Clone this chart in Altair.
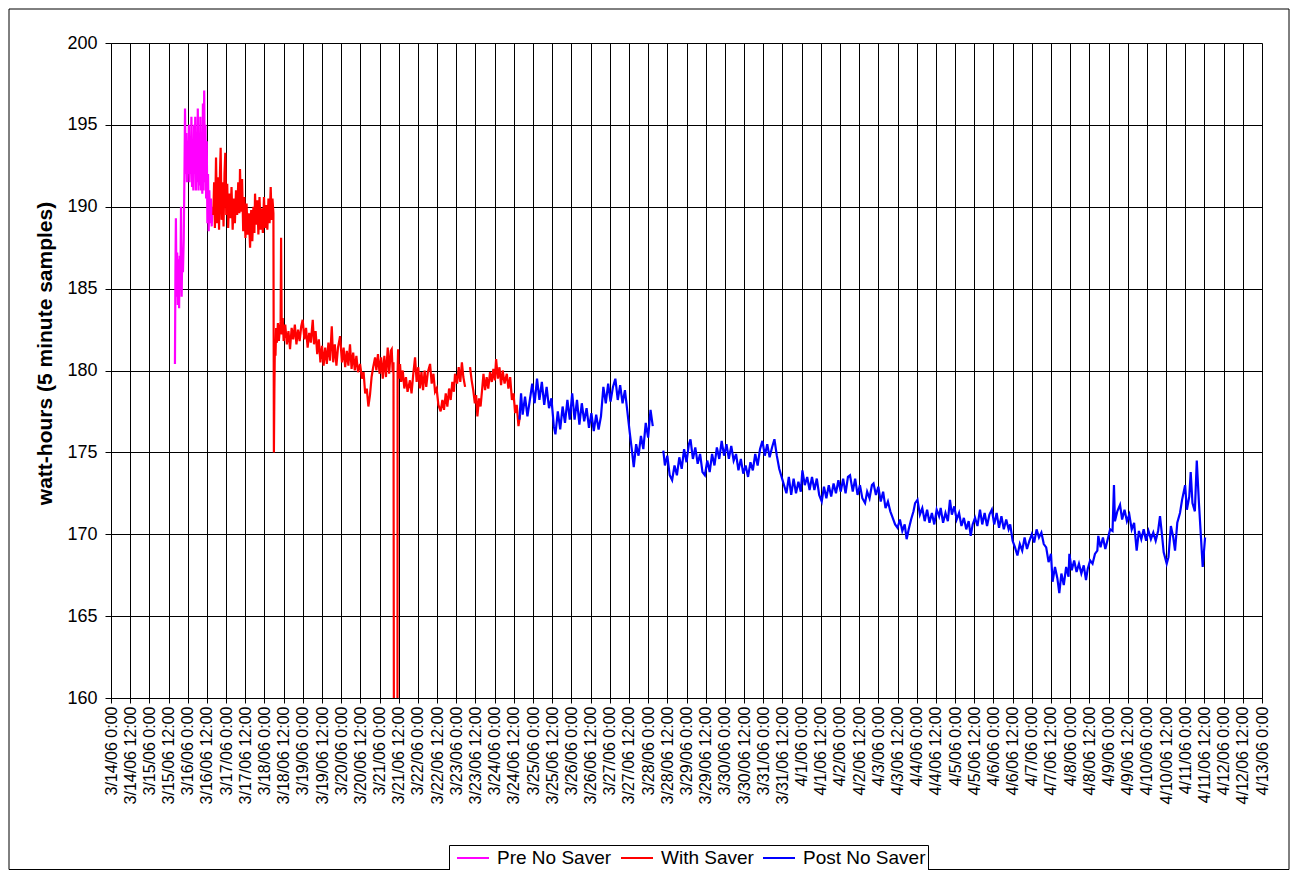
import altair as alt
import pandas as pd

START = pd.Timestamp("2006-03-14T00:00:00Z")

# ---- Pre No Saver (hours since 3/14/06 0:00, watt-hours) ----
pre_hours = [40.0, 40.3, 40.6, 41.0, 41.4, 41.8, 42.2, 42.6, 43.0, 43.4, 43.8, 44.2, 44.6, 45.0, 45.5,
             46.0, 46.3, 46.7, 47.1, 47.5, 47.9, 48.3, 48.7, 49.1, 49.5, 49.9, 50.3, 50.7, 51.1, 51.5,
             51.9, 52.3, 52.7, 53.1, 53.5, 53.9, 54.3, 54.7, 55.1, 55.5, 55.9, 56.3, 56.7, 57.1, 57.5,
             57.9, 58.3, 58.7, 59.1, 59.5, 59.9, 60.3, 60.7, 61.1, 61.5, 62.0, 62.5, 63.0, 63.5, 63.8]
pre_vals = [180.4, 186.0, 189.3, 184.5, 187.2, 184.0, 186.8, 183.8, 187.0, 185.0, 190.0, 184.5, 187.5, 186.0, 188.0,
            192.5, 196.0, 192.0, 194.5, 191.5, 194.0, 192.0, 195.0, 191.5, 193.5, 192.0, 195.5, 191.2, 194.0, 191.0,
            195.0, 192.0, 195.5, 191.0, 194.0, 191.5, 196.0, 191.0, 194.5, 191.3, 195.5, 191.0, 194.0, 190.8, 196.3,
            191.0, 197.1, 191.5, 195.0, 190.5, 194.0, 189.0, 192.0, 188.5, 191.0, 189.0, 190.5, 188.8, 190.0, 189.5]

# ---- With Saver, first stretch ----
with1_hours = [64.0, 64.5, 65.0, 65.7, 66.3, 67.0, 67.6, 68.2, 68.6, 69.2, 69.8, 70.4, 71.0, 71.5, 72.1,
               72.7, 73.3, 74.0, 74.7, 75.4, 76.1, 76.8, 77.5, 78.2, 78.9, 79.6, 80.3, 80.7, 81.3, 82.0,
               82.7, 83.4, 84.1, 84.8, 85.5, 86.2, 87.0, 87.7, 88.4, 89.1, 89.7, 90.1, 90.8, 91.5, 92.2,
               92.9, 93.6, 94.3, 95.0, 95.7, 96.4, 97.1, 97.8, 98.5, 99.2, 99.9, 100.5, 101.0, 101.6,
               101.9, 102.2, 102.5, 102.9, 103.3, 103.8, 104.4, 105.0, 105.6, 106.1, 106.4, 106.8, 107.4, 108.0,
               109, 110, 111, 112, 113, 114, 115, 116, 117, 118, 119, 119.9, 121, 122, 123, 124, 125, 126.2,
               127, 128, 129, 130, 131, 132, 133, 134, 135, 136, 137, 138.1, 139, 140, 141, 142, 143.3,
               144.5, 145.5, 146.5, 147.5, 148.5, 149.5, 150.5, 151.5, 152.5, 153.5, 154.5, 155.8, 157, 158,
               159, 160, 161, 162, 163, 164, 165.2, 166, 167, 168, 169, 170, 171, 172, 173.1, 174, 175, 175.6,
               176.2, 176.7, 177.0, 179.2, 179.3, 179.6, 180.0, 180.8, 181.5, 182.5, 183.5, 184.5, 185.5, 187.0,
               188.0, 189.1, 190.2, 191.2, 192.2, 193.2, 194.2, 195.2, 196.2, 197.2, 198.2, 199.6, 200.6, 201.7,
               202.7, 203.7, 204.8, 206.2, 207.3, 208.3, 209.4, 210.4, 211.5, 212.5, 213.5, 214.5, 215.2, 216.5,
               217.5, 218.5, 219.5, 220.4, 221.5]
with1_vals = [189.5, 191.5, 188.7, 193.0, 189.0, 191.8, 188.6, 192.2, 193.6, 189.2, 191.5, 188.8, 192.0, 193.3, 189.5,
              191.4, 188.7, 190.8, 189.3, 191.2, 188.6, 190.5, 189.0, 191.0, 189.5, 191.5, 189.6, 192.3, 189.7, 191.7,
              188.5, 190.6, 188.1, 190.2, 188.3, 189.6, 187.5, 189.8, 187.9, 190.0, 188.4, 190.8, 188.9, 190.4, 188.3,
              190.6, 188.6, 189.9, 188.4, 190.6, 188.7, 190.1, 188.6, 190.5, 189.0, 191.2, 189.2, 190.5, 189.6,
              175.0, 178.8, 181.4, 180.9, 182.6, 181.7, 182.9, 181.8, 182.5, 183.0, 188.1, 182.2, 183.2, 181.8,
              182.8, 181.6, 182.4, 181.3, 182.6, 181.9, 182.8, 181.6, 182.5, 181.8, 182.7, 183.1, 181.9, 182.6, 181.4, 182.3, 181.7, 183.1,
              181.6, 182.4, 181.0, 181.9, 180.5, 181.5, 180.3, 181.4, 180.4, 181.7, 180.6, 182.7, 180.5, 181.6, 180.3, 181.4, 182.1,
              180.5, 181.4, 180.2, 181.2, 180.3, 181.6, 180.1, 181.1, 180.0, 180.9, 179.9, 180.4, 179.5, 179.9,
              178.6, 178.9, 177.8, 178.5, 179.6, 180.2, 180.8, 180.0, 181.0, 179.8, 180.8, 179.5, 180.9, 179.6, 181.4, 179.8, 181.2, 181.3,
              179.9, 180.5, 155.0, 155.0, 180.0, 181.3, 179.5, 180.4, 179.3, 180.0, 178.9, 179.6, 178.7, 179.4,
              178.6, 179.8, 180.8, 179.3, 180.2, 178.9, 179.9, 178.8, 180.0, 179.0, 179.9, 180.4, 179.2, 179.8,
              178.7, 178.9, 177.9, 177.5, 178.2, 177.6, 178.6, 177.8, 178.9, 178.2, 179.3, 178.7, 179.8, 179.2,
              180.2, 179.3, 180.5, 179.6, 179.0]

# ---- With Saver, after the short gap ----
with2_hours = [224.6, 225.6, 226.6, 227.6, 228.4, 229.2, 230.2, 231.2, 232.2, 233.0, 234.0, 235.0, 236.0, 237.1,
               238.2, 239.2, 240.1, 240.9, 242.0, 243.0, 244.0, 245.0, 246.2, 247.6, 248.6, 249.7, 250.8, 251.8,
               252.8, 253.8, 254.9, 255.9]
with2_vals = [180.2, 179.4, 178.8, 178.0, 178.5, 177.2, 178.3, 177.8, 178.9, 179.8, 178.8, 179.6, 178.9, 179.9,
              179.3, 180.1, 179.4, 180.7, 179.5, 180.2, 179.1, 180.0, 179.2, 179.8, 178.9, 179.6, 178.2, 178.6,
              177.4, 177.9, 176.6, 177.3]

# ---- Post No Saver, before the gap ----
post1_hours = [255.5, 256.5, 257.5, 259, 260.5, 262, 263.5, 265, 266.5, 268, 269.5, 271, 272.5, 274, 275.5,
               277, 278, 279.5, 281, 282.5, 284, 285.5, 287, 288.5, 290, 291.5, 293, 294.5, 296, 297.5,
               299, 300.5, 302, 303.5, 305, 306.5, 308, 309.5, 311, 312.5, 314, 315.5, 317, 318.5, 320,
               321.5, 323, 324.5, 326, 327, 328.5, 330, 331.5, 333, 334.5, 336, 337.5, 338.9]
post1_vals = [177.0, 178.6, 177.3, 178.4, 177.2, 178.2, 179.2, 178.0, 179.5, 178.2, 179.3, 177.9, 179.0, 177.7, 178.3,
              176.6, 176.1, 177.5, 176.4, 177.8, 176.8, 178.2, 177.0, 178.6, 177.0, 178.2, 176.7, 178.0, 176.9, 177.7,
              176.5, 177.4, 176.3, 177.3, 176.4, 177.2, 179.0, 178.0, 179.2, 178.1, 179.0, 179.5, 178.2, 179.1, 178.0,
              178.8, 177.5, 176.2, 175.0, 174.1, 175.5, 174.8, 176.0, 175.2, 176.8, 175.9, 177.6, 176.6]

# ---- Post No Saver, after the gap ----
post2_hours = [345.5, 346.5, 348, 349.5, 351, 352.5, 354, 355.5, 357, 358.5, 360, 361.5, 362.5, 364, 365.5,
               367, 368.5, 370, 371.5, 373, 374.5, 376, 377.5, 379, 380.5, 382, 383.5, 385, 386.5, 388,
               389.5, 391, 392.5, 394, 395.5, 397, 398.5, 400, 401.5, 403, 404.5, 406, 407.5, 409, 410.5,
               412, 413.5, 415, 416.5, 418, 419.5, 421, 422.5, 424, 425.5, 427, 428.5, 430, 431.5, 432.5,
               434, 435.5, 437, 438.5, 440, 441.5, 443, 444.6, 446, 447.5, 449, 450.5, 452, 453.5, 455,
               456.5, 458, 459.5, 461, 462.3, 464, 465.5, 467, 468.5, 470, 471.7, 473, 474.5, 476, 477,
               478.5, 480, 481.5, 483, 484.5, 486, 487.5, 489, 490.5, 492, 493.5, 495, 496.5, 497.7, 499,
               500.5, 502, 503, 504.5, 506, 507.5, 509, 510.5, 512, 513.5, 515, 516.5, 518, 519, 520.5,
               522, 523.5, 524.8, 526, 527.5, 529, 530.5, 532, 533.5, 535, 536.5, 537.8, 539, 540.5, 542,
               543.6, 545, 546.5, 548, 549.5, 551, 552.5, 554, 555.5, 557, 558.5, 560, 561.5, 562.5, 564,
               565.5, 567, 568.5, 570, 571.5, 573, 574.5, 576, 577.5, 579, 580.5, 582, 583.5, 585, 586.5,
               588, 589, 590.5, 592, 593.2, 594.5, 596, 597.5, 599, 599.5, 601, 602.5, 604, 605.5, 607,
               608.5, 609.9, 611, 612.5, 614, 615.5, 617, 617.6, 619, 620.5, 622, 623.5, 625, 626.5, 627.4,
               628, 629.5, 631.2, 632.5, 634, 635.5, 637, 638.5, 640, 641.6, 643, 644.5, 646, 647.5, 649,
               650.5, 652, 653.5, 655, 656.2, 657.5, 658.5, 660.4, 661.5, 663, 664.5, 665.6, 667, 668.7, 670,
               671.9, 673, 674.5, 675.4, 676.5, 678, 679.2, 680.5, 682, 682.9, 684.4]
post2_vals = [175.1, 174.2, 174.8, 173.6, 173.3, 174.2, 173.6, 174.7, 174.0, 175.2, 174.4, 175.5, 175.8, 174.6, 175.3,
              174.3, 174.9, 173.8, 173.6, 174.5, 173.8, 174.9, 174.2, 175.3, 174.6, 175.7, 174.8, 175.5, 174.6, 175.4,
              174.5, 174.9, 173.9, 174.6, 173.7, 174.2, 173.5, 174.4, 173.9, 174.9, 174.2, 175.2, 175.7, 174.8, 175.5,
              174.7, 175.3, 175.8, 174.8, 174.0, 173.5, 173.0, 172.5, 173.5, 172.4, 173.4, 172.5, 173.2, 172.6, 173.9,
              173.0, 173.5, 172.7, 173.5, 172.7, 173.4, 172.4, 172.0, 172.9, 172.2, 173.0, 172.3, 173.1, 172.5, 173.3,
              172.6, 173.4, 172.5, 173.5, 173.6, 172.6, 173.4, 172.4, 173.0, 172.2, 171.9, 172.6, 172.2, 173.0, 173.1,
              172.4, 172.9, 172.0, 172.6, 171.6, 172.0, 171.4, 171.0, 170.6, 170.4, 170.9, 170.2, 170.6, 169.7, 170.3,
              170.9, 171.4, 171.9, 172.1, 171.2, 171.6, 170.8, 171.5, 170.7, 171.3, 170.6, 171.5, 171.1, 171.6, 170.7,
              171.3, 170.8, 172.1, 171.2, 171.7, 170.9, 171.3, 170.5, 171.0, 170.3, 170.8, 169.9, 170.6, 171.0, 170.5,
              171.5, 170.6, 171.3, 170.5, 171.2, 171.5, 170.6, 171.3, 170.4, 171.1, 170.3, 170.9, 170.3, 170.6, 169.6,
              169.2, 168.7, 169.4, 169.0, 169.8, 169.1, 169.6, 170.0, 169.5, 170.3, 169.8, 170.1, 169.4, 169.2, 168.3,
              168.8, 167.1, 168.0, 167.3, 166.4, 167.6, 166.9, 168.0, 167.4, 168.8, 167.8, 168.4, 167.7, 168.2, 167.6,
              168.1, 167.2, 167.9, 168.4, 168.2, 168.8, 169.0, 169.9, 169.2, 169.8, 169.1, 169.7, 170.3, 170.2, 173.0,
              170.8, 171.4, 171.8, 170.9, 171.5, 170.8, 171.2, 170.3, 170.7, 169.0, 170.2, 169.7, 170.3, 169.6, 170.2,
              169.7, 170.1, 169.6, 170.2, 171.1, 169.9, 168.9, 168.2, 168.6, 170.5, 169.8, 169.0, 170.7, 171.3, 172.1,
              173.0, 171.5, 172.3, 173.8, 171.9, 171.4, 174.5, 172.0, 169.5, 168.0, 169.8]

series_names = ["Pre No Saver", "With Saver", "Post No Saver"]
series_colors = ["#FF00FF", "#FF0000", "#0000FF"]

y_ticks = [160, 165, 170, 175, 180, 185, 190, 195, 200]
x_tick_hours = list(range(0, 721, 12))

pieces = [
    ("Pre No Saver", "pre", pre_hours, pre_vals),
    ("With Saver", "with1", with1_hours, with1_vals),
    ("With Saver", "with2", with2_hours, with2_vals),
    ("Post No Saver", "post1", post1_hours, post1_vals),
    ("Post No Saver", "post2", post2_hours, post2_vals),
]
rows = []
order = 0
for name, seg, hrs, vals in pieces:
    for h, v in zip(hrs, vals):
        t = START + pd.Timedelta(hours=h)
        rows.append({"time": t.strftime("%Y-%m-%dT%H:%M:%SZ"), "wh": v, "series": name, "seg": seg, "ord": order})
        order += 1
df = pd.DataFrame(rows)

def ms(h):
    return int((START + pd.Timedelta(hours=h)).timestamp() * 1000)

x_values = [ms(h) for h in x_tick_hours]

W, H = 1151, 655
PAD_L, PAD_T, PAD_R, PAD_B = 103, 35, 28, 172

lines = alt.Chart(df).mark_line(strokeWidth=2.2, clip=True).encode(
    x=alt.X("time:T",
            scale=alt.Scale(type="utc", domain=[ms(0), ms(720)]),
            axis=alt.Axis(values=x_values, format="%-m/%-d/%y %-H:%M", labelAngle=270,
                          labelFontSize=16, labelFont="Liberation Sans", labelColor="#000",
                          tickSize=5, tickColor="#000", labelPadding=3,
                          grid=True, gridColor="#000", gridWidth=1, gridOpacity=1,
                          domainColor="#000", title=None, labelOverlap=False, labelFlush=False)),
    y=alt.Y("wh:Q",
            scale=alt.Scale(domain=[160, 200], nice=False, zero=False),
            axis=alt.Axis(values=y_ticks, labelFontSize=18, labelFont="Liberation Sans", labelColor="#000",
                          tickSize=6, tickColor="#000", labelPadding=8,
                          grid=True, gridColor="#000", gridWidth=1, gridOpacity=1,
                          domainColor="#000",
                          title="watt-hours (5 minute samples)", titleFont="Liberation Sans",
                          titleFontSize=21, titleFontWeight="bold", titleColor="#000",
                          titleX=-56, titleY=310, titleBaseline="bottom", titleAngle=270)),
    color=alt.Color("series:N",
                    scale=alt.Scale(domain=series_names, range=series_colors),
                    legend=alt.Legend(title=None, orient="none", legendX=338, legendY=802,
                                      direction="horizontal", symbolType="M-1.6,0H1.6",
                                      symbolStrokeWidth=2, symbolSize=400,
                                      labelFontSize=19, labelFont="Liberation Sans",
                                      labelColor="#000", strokeColor="#000", fillColor="#fff",
                                      padding=2, columnPadding=3, symbolOffset=11, labelOffset=13)),
    detail="seg:N",
    order="ord:Q",
)

frame = alt.Chart(alt.Data(values=[{}])).mark_rect(fill=None, stroke="#000", strokeWidth=1, clip=False).encode(
    x=alt.value(-PAD_L + 1), x2=alt.value(W + PAD_R - 1),
    y=alt.value(-PAD_T + 1), y2=alt.value(H + PAD_B - 0.5)
)

chart = alt.layer(lines, frame).properties(
    width=W, height=H,
    autosize=alt.AutoSizeParams(type="none"),
    padding={"left": PAD_L, "top": PAD_T, "right": PAD_R, "bottom": PAD_B},
).configure_view(stroke="#000", strokeWidth=1).configure(background="#fff")

chart.save("out.html", embed_options={"renderer": "svg", "actions": False})
